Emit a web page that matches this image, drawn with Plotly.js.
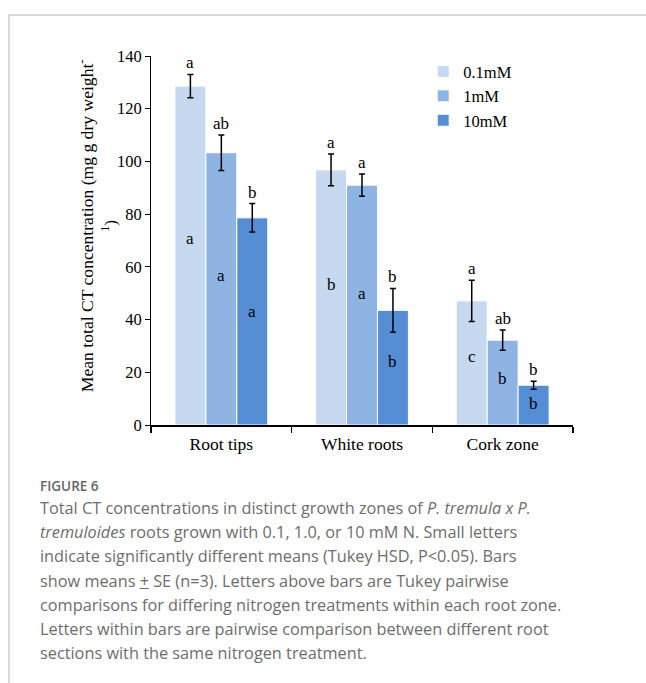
<!DOCTYPE html>
<html>
<head>
<meta charset="utf-8">
<script src="https://cdn.plot.ly/plotly-3.0.1.min.js"></script>
<style>
  html, body { margin: 0; padding: 0; background: #fff; }
  #wrap { position: relative; width: 646px; height: 683px; overflow: hidden; }
  #frame { position: absolute; left: 8px; top: 14px; width: 700px; height: 700px;
           border-left: 2px solid #d9d9d9; border-top: 2px solid #d9d9d9; box-sizing: border-box; }
  #chart { position: absolute; left: 0; top: 0; width: 646px; height: 683px; }
  #caption { position: absolute; left: 40px; top: 476px; width: 600px;
             font-family: "Open Sans", sans-serif; color: #6d6d6d; font-size: 16.3px; line-height: 24.2px; }
  #caption .fig { font-size: 13.5px; font-weight: 600; color: #666; line-height: 20px; margin-bottom: 0px; }
</style>
</head>
<body>
<div id="wrap">
  <div id="frame"></div>
  <div id="chart"></div>
  <div id="caption">
    <div class="fig">FIGURE 6</div>
    Total CT concentrations in distinct growth zones of <i>P. tremula x P.</i><br>
    <i>tremuloides</i> roots grown with 0.1, 1.0, or 10 mM N. Small letters<br>
    indicate significantly different means (Tukey HSD, P&lt;0.05). Bars<br>
    show means <u>+</u> SE (n=3). Letters above bars are Tukey pairwise<br>
    comparisons for differing nitrogen treatments within each root zone.<br>
    Letters within bars are pairwise comparison between different root<br>
    sections with the same nitrogen treatment.
  </div>
</div>
<script>
const zones = ["Root tips", "White roots", "Cork zone"];
const seriesNames = ["0.1mM", "1mM", "10mM"];
const colors = ["#c6d9f1", "#8eb4e3", "#558ed5"];

const mean01 = [128.6, 96.8, 47.1];
const mean1  = [103.3, 91.0, 32.2];
const mean10 = [78.6, 43.5, 15.1];

const se01 = [4.4, 6.0, 7.8];
const se1  = [6.7, 4.2, 3.8];
const se10 = [5.4, 8.3, 1.5];

const above01 = ["a", "a", "a"];
const above1  = ["ab", "a", "ab"];
const above10 = ["b", "b", "b"];

const within01 = ["a", "b", "c"];
const within1  = ["a", "a", "b"];
const within10 = ["a", "b", "b"];

const yTitle = "Mean total CT concentration (mg g dry weight<sup>-</sup><br><sup>1</sup>)";

const means = [mean01, mean1, mean10];
const ses = [se01, se1, se10];
const aboves = [above01, above1, above10];
const withins = [within01, within1, within10];

const serif = "Liberation Serif, Times New Roman, serif";

const traces = seriesNames.map((name, i) => ({
  type: "bar",
  name: name,
  x: zones,
  y: means[i],
  marker: { color: colors[i], line: { color: "#ffffff", width: 1 } },
  error_y: { type: "data", array: ses[i], visible: true, color: "#000", thickness: 1.5, width: 3 },
  hoverinfo: "none"
}));

const barGap = 0.34;
const barW = (1 - barGap) / 3;
const annotations = [];
for (let i = 0; i < 3; i++) {
  for (let j = 0; j < zones.length; j++) {
    const xpos = j + (i - 1) * barW;
    annotations.push({
      x: xpos, y: means[i][j] + ses[i][j], xref: "x", yref: "y",
      text: aboves[i][j], showarrow: false, yanchor: "bottom", yshift: 0,
      font: { family: serif, size: 17, color: "#000" }
    });
    annotations.push({
      x: xpos, y: means[i][j] * 0.55, xref: "x", yref: "y",
      text: withins[i][j], showarrow: false, yanchor: "middle",
      font: { family: serif, size: 17, color: "#000" }
    });
  }
}
annotations.push({
  x: -0.127, y: 0.54, xref: "paper", yref: "paper",
  xanchor: "center", yanchor: "middle", textangle: -90,
  text: yTitle, showarrow: false, align: "center",
  font: { family: serif, size: 17.6, color: "#000" }
});

const layout = {
  width: 646, height: 683,
  margin: { l: 151, r: 73, t: 56, b: 258, pad: 0 },
  paper_bgcolor: "rgba(0,0,0,0)",
  plot_bgcolor: "rgba(0,0,0,0)",
  barmode: "group",
  bargap: barGap,
  bargroupgap: 0,
  showlegend: true,
  legend: {
    x: 0.645, y: 1.005, xanchor: "left", yanchor: "top",
    font: { family: serif, size: 16.5, color: "#000" },
    itemwidth: 30, tracegroupgap: 0, bgcolor: "rgba(0,0,0,0)"
  },
  font: { family: serif, color: "#000" },
  xaxis: {
    type: "category",
    showline: true, linecolor: "#000", linewidth: 2,
    ticks: "outside", tickson: "boundaries", ticklen: 6, tickcolor: "#000", tickwidth: 1.5,
    tickfont: { family: serif, size: 17.5, color: "#000" },
    ticklabelstandoff: 2,
    showgrid: false, zeroline: false, fixedrange: true
  },
  yaxis: {
    range: [0, 140], dtick: 20,
    showline: true, linecolor: "#000", linewidth: 1,
    ticks: "outside", ticklen: 5, tickcolor: "#000",
    tickfont: { family: serif, size: 16.5, color: "#000" },
    showgrid: false, zeroline: false
  },
  annotations: annotations
};

Plotly.newPlot("chart", traces, layout, { displayModeBar: false, staticPlot: true });
</script>
</body>
</html>
